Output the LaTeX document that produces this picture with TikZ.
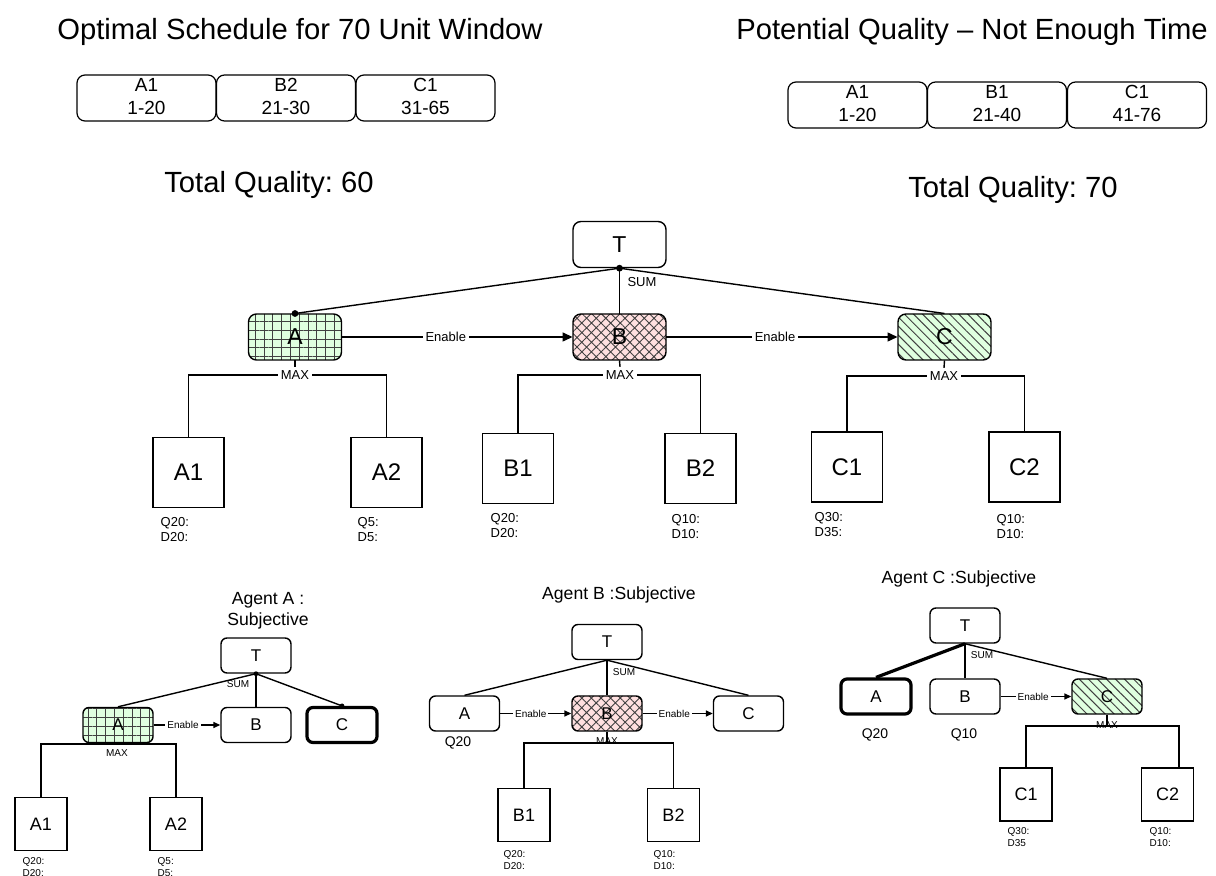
\documentclass[tikz,border=0pt]{standalone}
\usepackage{fontspec}
\setmainfont{Liberation Sans}
\usetikzlibrary{arrows.meta,patterns.meta}
\frenchspacing

\begin{document}
\begin{tikzpicture}[x=0.5pt,y=-0.5pt,line width=0.7pt,
  heading/.style={font=\fontsize{14.6}{17}\selectfont},
  slot/.style={draw,line width=0.6pt,rounded corners=4pt,minimum width=69.5pt,minimum height=23pt,inner sep=0pt,align=center,font=\fontsize{9.5}{11.5}\selectfont},
  task/.style={draw,rounded corners=4pt,minimum width=46.5pt,minimum height=23pt,inner sep=0pt,font=\fontsize{11.5}{13}\selectfont},
  leaf/.style={draw,minimum width=35.5pt,minimum height=35pt,inner sep=0pt,font=\fontsize{12}{14}\selectfont},
  tag/.style={font=\fontsize{6.5}{7.5}\selectfont,inner sep=1.5pt},
  qd/.style={tag,align=left,anchor=west,inner sep=0pt},
  agent/.style={align=center,font=\fontsize{8.8}{10.5}\selectfont},
  stask/.style={draw,rounded corners=3pt,minimum width=35pt,minimum height=17.5pt,inner sep=0pt,font=\fontsize{8.5}{10}\selectfont},
  sleaf/.style={draw,minimum width=26pt,minimum height=26.5pt,inner sep=0pt,font=\fontsize{9}{11}\selectfont},
  stag/.style={font=\fontsize{5}{6}\selectfont,inner sep=1pt},
  sqd/.style={stag,align=left,anchor=west,inner sep=0pt},
  qval/.style={font=\fontsize{7}{8}\selectfont},
  bold/.style={line width=1.6pt},
  gridfill/.style={preaction={fill=green!12},pattern={Hatch[angle=0,distance=4.4pt,line width=0.5pt]},pattern color=black!75},
  crossfill/.style={preaction={fill=red!12},pattern={Hatch[angle=45,distance=3.4pt,line width=0.45pt]},pattern color=black!75},
  hatchfill/.style={preaction={fill=green!12},pattern={Lines[angle=-45,distance=3.2pt,line width=0.5pt]},pattern color=black!75},
  enable/.style={-{Triangle[length=5pt,width=4.5pt]}},
  senable/.style={-{Triangle[length=3.5pt,width=3pt]}}]
\useasboundingbox (0,0) rectangle (1216,876);

% schedules
\node[heading] (opt) at (300,32) {Optimal Schedule for 70 Unit Window};
\node[heading] (pot) at (972,32) {Potential Quality – Not Enough Time};
\foreach \n/\t/\s/\x in {a/A1/1-20/146.5, b/B2/21-30/286, c/C1/31-65/425.5}{
    \node[slot] (opt\n) at (\x,98) {\strut\t\\\strut\s};
}
\foreach \n/\t/\s/\x in {a/A1/1-20/857.5, b/B1/21-40/997, c/C1/41-76/1137}{
    \node[slot] (pot\n) at (\x,105) {\strut\t\\\strut\s};
}
\node[heading] (q60) at (269,185) {Total Quality: 60};
\node[heading] (q70) at (1013,190) {Total Quality: 70};

% objective tree
\node[task] (t0) at (619.5,244.5) {T};
\node[task,gridfill] (a0) at (295,337) {A};
\node[task,crossfill] (b0) at (619.5,337) {B};
\node[task,hatchfill] (c0) at (944.5,337) {C};
\draw (t0.south) -- (a0.north);
\draw (t0.south) -- (b0.north);
\draw (t0.south) -- (c0.north);
\fill (t0.south) circle (1.7pt) (a0.north) circle (1.7pt);
\node[tag] (sum0) at (642,282) {SUM};
\draw[enable] (a0) -- node[tag,fill=white,pos=0.45]{Enable} (b0);
\draw[enable] (b0) -- node[tag,fill=white,pos=0.47]{Enable} (c0);

\node[leaf] (a1) at (188.5,472.5) {A1};
\node[leaf] (a2) at (386.5,472.5) {A2};
\node[leaf] (b1) at (518,468.5) {B1};
\node[leaf] (b2) at (700.5,468.5) {B2};
\node[leaf] (c1) at (847,467) {C1};
\node[leaf] (c2) at (1024.5,467) {C2};
\foreach \p/\l/\r/\x/\y in {a0/a1/a2/295/375, b0/b1/b2/620/375, c0/c1/c2/944/376}{
    \coordinate (m\p) at (\x,\y);
    \draw (\l.north) |- (m\p) -| (\r.north);
    \node[tag,fill=white] (x\p) at (m\p) {MAX};
    \draw (\p.south) -- (x\p.north);
}
\node[qd] (qa1) at (160,529.5) {Q20:\\D20:};
\node[qd] (qa2) at (357,529.5) {Q5:\\D5:};
\node[qd] (qb1) at (490,525.5) {Q20:\\D20:};
\node[qd] (qb2) at (671,527) {Q10:\\D10:};
\node[qd] (qc1) at (814,525) {Q30:\\D35:};
\node[qd] (qc2) at (996,526.5) {Q10:\\D10:};

% agent A
\node[agent] (agA) at (268,611) {Agent A :\\Subjective};
\node[stask] (ta) at (256,655.5) {T};
\node[stask,gridfill] (aa) at (118,725) {A};
\node[stask] (ba) at (256,725) {B};
\node[stask,bold] (ca) at (342,725) {C};
\draw (ta.south) -- (aa.north);
\draw (ta.south) -- (ba.north);
\draw (ta.south) -- (ca.north);
\fill (ta.south) circle (1.2pt) (ca.north) circle (1.2pt);
\node[stag] (suma) at (238,684) {SUM};
\draw[senable] (aa) -- node[stag,fill=white,pos=0.44]{Enable} (ba);
\node[sleaf] (aa1) at (41,824) {A1};
\node[sleaf] (aa2) at (176,824) {A2};
\coordinate (maa) at (118,744);
\draw (aa1.north) |- (maa) -| (aa2.north);
\draw (aa.south) -- (maa);
\node[stag] (xaa) at (117,753) {MAX};
\node[sqd] (qaa1) at (22,867) {Q20:\\D20:};
\node[sqd] (qaa2) at (157,867) {Q5:\\D5:};

% agent B
\node[agent] (agB) at (619,595) {Agent B :Subjective};
\node[stask] (tb) at (607,642) {T};
\node[stask] (ab) at (464.5,713.5) {A};
\node[stask,crossfill] (bb) at (607,713.5) {B};
\node[stask] (cb) at (748.5,713.5) {C};
\draw (tb.south) -- (ab.north);
\draw (tb.south) -- (bb.north);
\draw (tb.south) -- (cb.north);
\node[stag] (sumb) at (624,672) {SUM};
\draw[senable] (ab) -- node[stag,fill=white,pos=0.43]{Enable} (bb);
\draw[senable] (bb) -- node[stag,fill=white,pos=0.45]{Enable} (cb);
\node[qval] (qab) at (458,743) {Q20};
\node[sleaf] (bb1) at (524,815) {B1};
\node[sleaf] (bb2) at (673.5,815) {B2};
\coordinate (mbb) at (607,743);
\draw (bb1.north) |- (mbb) -| (bb2.north);
\draw (bb.south) -- (mbb);
\node[stag] (xbb) at (607,741) {MAX};
\node[sqd] (qbb1) at (503,860) {Q20:\\D20:};
\node[sqd] (qbb2) at (653,860) {Q10:\\D10:};

% agent C
\node[agent] (agC) at (959,579) {Agent C :Subjective};
\node[stask] (tc) at (965,625.5) {T};
\node[stask,bold] (ac) at (876,696.5) {A};
\node[stask] (bc) at (965,696.5) {B};
\node[stask,hatchfill] (cc) at (1107,696.5) {C};
\draw[bold] (tc.south) -- (ac.north);
\draw (tc.south) -- (bc.north);
\draw (tc.south) -- (cc.north);
\node[stag] (sumc) at (982,655) {SUM};
\draw[senable] (bc) -- node[stag,fill=white,pos=0.46]{Enable} (cc);
\node[qval] (qac) at (875,735) {Q20};
\node[qval] (qbc) at (964,735) {Q10};
\node[sleaf] (cc1) at (1026,794.5) {C1};
\node[sleaf] (cc2) at (1167.5,794.5) {C2};
\coordinate (mcc) at (1107,726);
\draw (cc1.north) |- (mcc) -| ([xshift=5.75pt]cc2.north);
\draw (cc.south) -- (mcc);
\node[stag] (xcc) at (1107,725) {MAX};
\node[sqd] (qcc1) at (1007,837.5) {Q30:\\D35};
\node[sqd] (qcc2) at (1149,837.5) {Q10:\\D10:};
\end{tikzpicture}
\end{document}
